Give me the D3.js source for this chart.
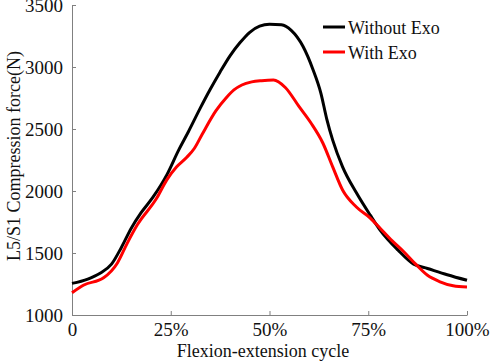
<!DOCTYPE html>
<html>
<head>
<meta charset="utf-8">
<script src="https://cdn.jsdelivr.net/npm/d3@7"></script>
<style>
  body { margin: 0; background: #fff; }
</style>
</head>
<body>
<svg id="chart" width="491" height="362"></svg>
<script>
// cycle position (%) and L5/S1 compression force (N)
const withoutCycle = [0, 4, 7, 10, 12.5, 15, 17.5, 20.5, 24, 27, 29.5, 32.5, 35, 37.5, 40, 42.5, 45, 47.5, 50, 53, 55.5, 58.5, 61, 63, 64.5, 66, 68.5, 72, 75.5, 78, 82.5, 86.5, 90, 95, 100]
const withoutForce = [1255, 1290, 1335, 1410, 1545, 1700, 1825, 1950, 2130, 2330, 2480, 2670, 2820, 2960, 3090, 3195, 3280, 3330, 3345, 3340, 3295, 3165, 2980, 2790, 2580, 2410, 2195, 1985, 1805, 1685, 1525, 1410, 1375, 1325, 1280]

const withCycle = [0, 3, 8, 11.5, 14, 16.5, 21.5, 24, 26.5, 29, 31, 33, 36.5, 39, 41, 43, 45.5, 48, 51, 54, 57.5, 60.5, 63.5, 66, 68.5, 72, 75.5, 78, 81, 84, 87, 90, 93, 96.5, 100]
const withForce = [1180, 1242, 1300, 1420, 1580, 1725, 1945, 2090, 2195, 2270, 2345, 2460, 2650, 2750, 2815, 2855, 2880, 2890, 2895, 2835, 2680, 2548, 2387, 2194, 2008, 1871, 1782, 1700, 1600, 1510, 1410, 1320, 1270, 1236, 1226]

const seriesNames = ['Without Exo', 'With Exo']
const seriesColors = ['#000000', '#ff0000']
const xTicks = [0, 25, 50, 75, 100]
const yTicks = [1000, 1500, 2000, 2500, 3000, 3500]

const serif = '"Liberation Serif", "Times New Roman", "DejaVu Serif", serif'
const margin = { left: 72, right: 24, top: 5, bottom: 47 }
const width = 491
const height = 362

const svg = d3.select('#chart')

const x = d3.scaleLinear()
  .domain([0, 100])
  .range([margin.left, width - margin.right])

const y = d3.scaleLinear()
  .domain([1000, 3500])
  .range([height - margin.bottom, margin.top])

svg.append('g')
  .attr('transform', `translate(0, ${height - margin.bottom})`)
  .call(d3.axisBottom(x)
    .tickValues(xTicks)
    .tickSizeInner(-4)
    .tickSizeOuter(0)
    .tickPadding(8)
    .tickFormat(d => d === 0 ? '0' : d + '%'))

svg.append('g')
  .attr('transform', `translate(${margin.left}, 0)`)
  .call(d3.axisLeft(y)
    .tickValues(yTicks)
    .tickSizeInner(-4)
    .tickSizeOuter(0)
    .tickPadding(9)
    .tickFormat(d3.format('d')))

svg.selectAll('.domain, .tick line')
  .attr('stroke', '#808080')
  .attr('stroke-width', 1)

svg.selectAll('.tick text')
  .style('font-size', '19px')

// axis titles
svg.append('text')
  .attr('x', 263)
  .attr('y', 357)
  .attr('text-anchor', 'middle')
  .style('font-size', '18px')
  .text('Flexion-extension cycle')

svg.append('text')
  .attr('transform', 'translate(20, 156) rotate(-90)')
  .attr('text-anchor', 'middle')
  .style('font-size', '18px')
  .text('L5/S1 Compression force(N)')

const line = d3.line()
  .x(d => x(d[0]))
  .y(d => y(d[1]))
  .curve(d3.curveMonotoneX)

const series = [
  d3.zip(withoutCycle, withoutForce),
  d3.zip(withCycle, withForce)
]

svg.selectAll('path.series')
  .data(series)
  .enter()
  .append('path')
  .attr('class', 'series')
  .attr('fill', 'none')
  .attr('stroke', (d, i) => seriesColors[i])
  .attr('stroke-width', 3)
  .attr('stroke-linejoin', 'round')
  .attr('d', line)

// legend
const legend = svg.append('g')
  .attr('transform', 'translate(323, 27)')

seriesNames.forEach((name, i) => {
  const row = legend.append('g')
    .attr('transform', `translate(0, ${i * 25})`)
  row.append('line')
    .attr('x1', 0)
    .attr('x2', 22)
    .attr('stroke', seriesColors[i])
    .attr('stroke-width', 3)
  row.append('text')
    .attr('x', 25)
    .attr('y', 7)
    .style('font-size', '18px')
    .text(name)
})

svg.selectAll('text')
  .attr('font-family', null)
  .style('font-family', serif)
  .style('fill', '#111')
</script>
</body>
</html>
